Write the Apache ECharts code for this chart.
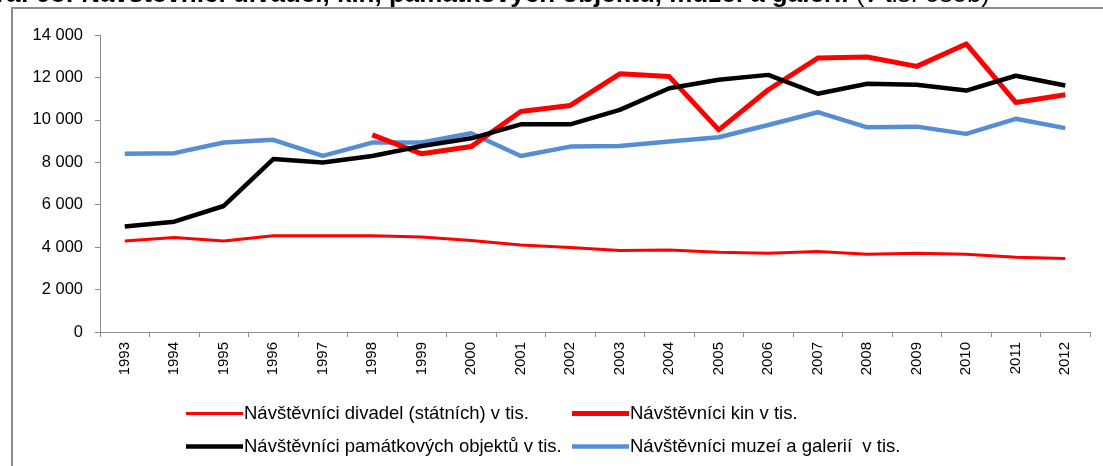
<!DOCTYPE html>
<html>
<head>
<meta charset="utf-8">
<script src="https://cdn.jsdelivr.net/npm/echarts@6/dist/echarts.min.js"></script>
<style>
  html, body { margin: 0; padding: 0; background: #fff; }
  #chart { width: 1103px; height: 466px; }
</style>
</head>
<body>
<div id="chart"></div>
<script>
// Years on the category axis
const years = ['1993','1994','1995','1996','1997','1998','1999','2000','2001','2002',
               '2003','2004','2005','2006','2007','2008','2009','2010','2011','2012'];

// Visitors, thousands
const divadla = [4290, 4460, 4290, 4540, 4540, 4540, 4480, 4310, 4100, 3980,
                 3840, 3870, 3760, 3710, 3790, 3660, 3710, 3660, 3520, 3460];
const kina = [null, null, null, null, null, 9290, 8400, 8740, 10390, 10680,
              12170, 12040, 9530, 11420, 12910, 12960, 12520, 13580, 10820, 11180];
const pamatky = [4970, 5200, 5940, 8150, 7990, 8300, 8770, 9130, 9790, 9790,
                 10470, 11490, 11890, 12120, 11230, 11700, 11650, 11380, 12080, 11620];
const muzea = [8400, 8430, 8930, 9060, 8300, 8930, 8930, 9370, 8300, 8740,
               8770, 8980, 9180, 9760, 10360, 9650, 9680, 9340, 10050, 9610];

const names = [
  'Návštěvníci divadel (státních) v tis.',
  'Návštěvníci kin v tis.',
  'Návštěvníci památkových objektů v tis.',
  'Návštěvníci muzeí a galerií  v tis.'
];
const colors = ['#FF0000', '#FF0000', '#000000', '#558ED5'];
const widths = [3, 5, 4.5, 4.5];
const values = [divadla, kina, pamatky, muzea];

const font = 'Liberation Sans, Arial, sans-serif';
const legendPos = [
  { left: 186, top: 404 },
  { left: 572, top: 404 },
  { left: 186, top: 437 },
  { left: 572, top: 437 }
];

const chart = echarts.init(document.getElementById('chart'), null, { renderer: 'canvas' });

chart.setOption({
  backgroundColor: '#fff',
  animation: false,
  textStyle: { fontFamily: font },
  graphic: [
    {
      type: 'polyline',
      shape: { points: [[12, 470], [12, 8], [1110, 8]] },
      style: { stroke: '#8c8c8c', lineWidth: 2, fill: null }
    },
    {
      type: 'text',
      right: 113,
      top: -18,
      style: {
        text: '{b|Graf 98: Návštěvníci divadel, kin, památkových objektů, muzeí a galerií}{n| (v tis. osob)}',
        rich: {
          b: { fontFamily: font, fontSize: 26, fontWeight: 'bold', fill: '#000' },
          n: { fontFamily: font, fontSize: 26, fill: '#000' }
        }
      }
    }
  ],
  legend: names.map((n, i) => ({
    data: [n],
    left: legendPos[i].left,
    top: legendPos[i].top,
    icon: 'rect',
    itemWidth: 57,
    itemHeight: widths[i],
    itemGap: 0,
    padding: 0,
    selectedMode: false,
    textStyle: { fontFamily: font, fontSize: 18.5, color: '#000', padding: [0, 0, 0, -4] }
  })),
  grid: { left: 100, right: 13, top: 35, bottom: 134, containLabel: false },
  xAxis: {
    type: 'category',
    data: years,
    boundaryGap: true,
    axisLine: { lineStyle: { color: '#8c8c8c', width: 1 } },
    axisTick: { show: true, interval: 0, length: 5, lineStyle: { color: '#8c8c8c' } },
    axisLabel: { rotate: 90, interval: 0, margin: 10, fontSize: 15, color: '#000', fontFamily: font }
  },
  yAxis: {
    type: 'value',
    min: 0,
    max: 14000,
    interval: 2000,
    axisLine: { show: true, lineStyle: { color: '#8c8c8c', width: 1 } },
    axisTick: { show: true, length: 5, lineStyle: { color: '#8c8c8c' } },
    splitLine: { show: false },
    axisLabel: {
      margin: 17,
      fontSize: 16.5,
      color: '#000',
      fontFamily: font,
      formatter: v => String(v).replace(/\B(?=(\d{3})+(?!\d))/g, ' ')
    }
  },
  series: names.map((n, i) => ({
    name: n,
    type: 'line',
    data: values[i],
    symbol: 'none',
    connectNulls: false,
    itemStyle: { color: colors[i] },
    lineStyle: { color: colors[i], width: widths[i], join: 'round' },
    z: [2, 3, 4, 1][i]
  }))
});
</script>
</body>
</html>
